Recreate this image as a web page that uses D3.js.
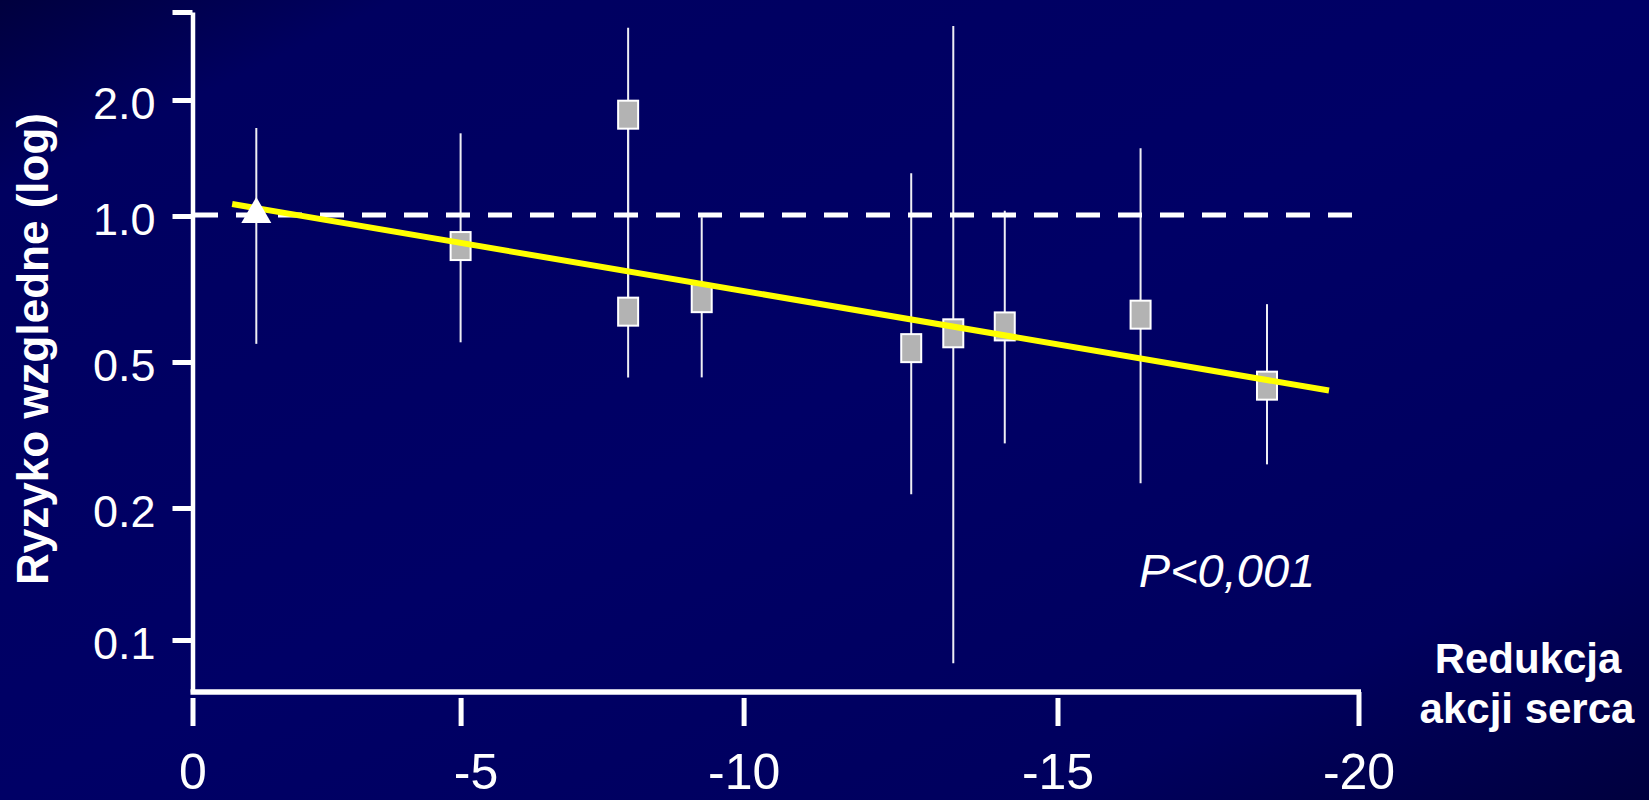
<!DOCTYPE html>
<html>
<head>
<meta charset="utf-8">
<script src="https://cdn.jsdelivr.net/npm/d3@7"></script>
<style>
  body { margin: 0; background: #000066; }
  svg { display: block; font-family: "Liberation Sans", Arial, sans-serif; }
</style>
</head>
<body>
<figure id="chart" style="margin:0"></figure>
<script>
// heart-rate reduction vs relative risk (log)
const studyX   = [-1.19, -5.0, -7.96, -7.96, -9.26, -12.67, -13.34, -14.16, -16.38, -18.48];
const riskRatio = [1.01, 0.867, 1.832, 0.635, 0.677, 0.534, 0.573, 0.592, 0.626, 0.431];
const ciLow    = [0.545, 0.549, 0.635, 0.454, 0.454, 0.218, 0.0885, 0.300, 0.2335, 0.263];
const ciHigh   = [1.692, 1.639, 3.09, 1.832, 0.994, 1.291, 3.126, 1.032, 1.499, 0.658];
const markerType = ["triangle", "box", "box", "box", "box", "box", "box", "box", "box", "box"];

const trendX = [-0.74, -19.51];
const trendY = [1.074, 0.418];

const xTickValues = [0, -5, -10, -15, -20];
const xTickLabels = ["0", "-5", "-10", "-15", "-20"];
const yTickValues = [0.1, 0.2, 0.5, 1.0, 2.0];
const yTickLabels = ["0.1", "0.2", "0.5", "1.0", "2.0"];
const yAxisMin = 0.076, yAxisMax = 3.4;
const refLine = 1.0;

const width = 1649, height = 800;

const svg = d3.select("#chart").append("svg")
  .attr("width", width)
  .attr("height", height);

// background gradient
const defs = svg.append("defs");
const grad = defs.append("linearGradient").attr("id", "bg")
  .attr("x1", 0).attr("y1", 0).attr("x2", 1).attr("y2", 1);
[[0, "#00003e"], [0.12, "#000060"], [0.5, "#000066"], [0.82, "#00005e"], [1, "#00003e"]]
  .forEach(s => grad.append("stop").attr("offset", s[0]).attr("stop-color", s[1]));
svg.append("rect").attr("width", width).attr("height", height).attr("fill", "url(#bg)");

// the original axes are hand-spaced, so use polylinear scales
const x = d3.scaleLinear()
  .domain(xTickValues)
  .range([192.5, 460.6, 743.6, 1057.5, 1358.5]);

const yLog = d3.scaleLinear()
  .domain([yAxisMin, ...yTickValues, yAxisMax].map(Math.log10))
  .range([692, 640, 508, 362, 216, 100, 12]);
const y = v => yLog(Math.log10(v));

const data = studyX.map((d, i) => ({
  x: d, rr: riskRatio[i], lo: ciLow[i], hi: ciHigh[i], type: markerType[i]
}));

// Y axis
const yAxis = svg.append("g")
  .attr("transform", "translate(192.5,0)")
  .call(d3.axisLeft(yLog)
    .tickValues([...yTickValues, yAxisMax].map(Math.log10))
    .tickFormat((d, i) => yTickLabels[i] || "")
    .tickSize(20)
    .tickSizeOuter(0)
    .tickPadding(17));
yAxis.select(".domain").attr("stroke", "#fff").attr("stroke-width", 4.5);
yAxis.selectAll(".tick line").attr("stroke", "#fff").attr("stroke-width", 5);
yAxis.selectAll(".tick text")
  .attr("fill", "#fff")
  .attr("font-size", 45)
  .attr("dy", 18.5);
yAxis.attr("font-family", null);

// X axis
const xAxis = svg.append("g")
  .attr("transform", "translate(0,692)")
  .call(d3.axisBottom(x)
    .tickValues(xTickValues)
    .tickFormat((d, i) => xTickLabels[i])
    .tickSizeOuter(0));
xAxis.select(".domain").attr("stroke", "#fff").attr("stroke-width", 5.5)
  .attr("d", "M190.5,0H1361");
xAxis.selectAll(".tick line")
  .attr("stroke", "#fff").attr("stroke-width", 5)
  .attr("y1", (d, i) => i === xTickValues.length - 1 ? 0 : 6)
  .attr("y2", 34);
xAxis.selectAll(".tick text")
  .attr("fill", "#fff")
  .attr("font-size", 50)
  .attr("y", 97)
  .attr("dy", 0)
  .attr("dx", d => d === -5 ? 15 : 0);
xAxis.attr("font-family", null);

// confidence intervals
svg.append("g").selectAll("line")
  .data(data)
  .enter()
  .append("line")
  .attr("x1", d => x(d.x)).attr("x2", d => x(d.x))
  .attr("y1", d => y(d.hi)).attr("y2", d => y(d.lo))
  .attr("stroke", "#eeeef4")
  .attr("stroke-width", 2);

// reference line at RR = 1
svg.append("line")
  .attr("x1", x(0) + 1.5).attr("x2", x(-19.9))
  .attr("y1", y(refLine) - 1).attr("y2", y(refLine) - 1)
  .attr("stroke", "#fff")
  .attr("stroke-width", 5)
  .attr("stroke-dasharray", "24,18");

// square markers
svg.append("g").selectAll("rect")
  .data(data.filter(d => d.type === "box"))
  .enter()
  .append("rect")
  .attr("x", d => x(d.x) - 10)
  .attr("y", d => y(d.rr) - 14)
  .attr("width", 20)
  .attr("height", 28)
  .attr("fill", "#b3b3b3")
  .attr("stroke", "#fff")
  .attr("stroke-width", 2);

// regression line
svg.append("path")
  .datum(trendX.map((d, i) => [d, trendY[i]]))
  .attr("d", d3.line().x(d => x(d[0])).y(d => y(d[1])))
  .attr("stroke", "#ffff00")
  .attr("stroke-width", 6)
  .attr("fill", "none");

// triangle marker
svg.append("g").selectAll("path")
  .data(data.filter(d => d.type === "triangle"))
  .enter()
  .append("path")
  .attr("d", d3.symbol().type(d3.symbolTriangle).size(390))
  .attr("transform", d => "translate(" + x(d.x) + "," + y(d.rr) + ")")
  .attr("fill", "#fff");

// texts
svg.append("text")
  .attr("transform", "translate(48,349) rotate(-90)")
  .attr("text-anchor", "middle")
  .attr("font-size", 44)
  .attr("font-weight", "bold")
  .attr("fill", "#fff")
  .text("Ryzyko wzgledne (log)");

svg.append("text")
  .attr("x", 1227).attr("y", 587)
  .attr("text-anchor", "middle")
  .attr("font-size", 47)
  .attr("font-style", "italic")
  .attr("fill", "#fff")
  .text("P<0,001");

const xTitle = svg.append("text")
  .attr("text-anchor", "middle")
  .attr("font-size", 42)
  .attr("font-weight", "bold")
  .attr("fill", "#fff");
xTitle.append("tspan").attr("x", 1528).attr("y", 673).text("Redukcja");
xTitle.append("tspan").attr("x", 1527).attr("y", 723).text("akcji serca");
</script>
</body>
</html>
